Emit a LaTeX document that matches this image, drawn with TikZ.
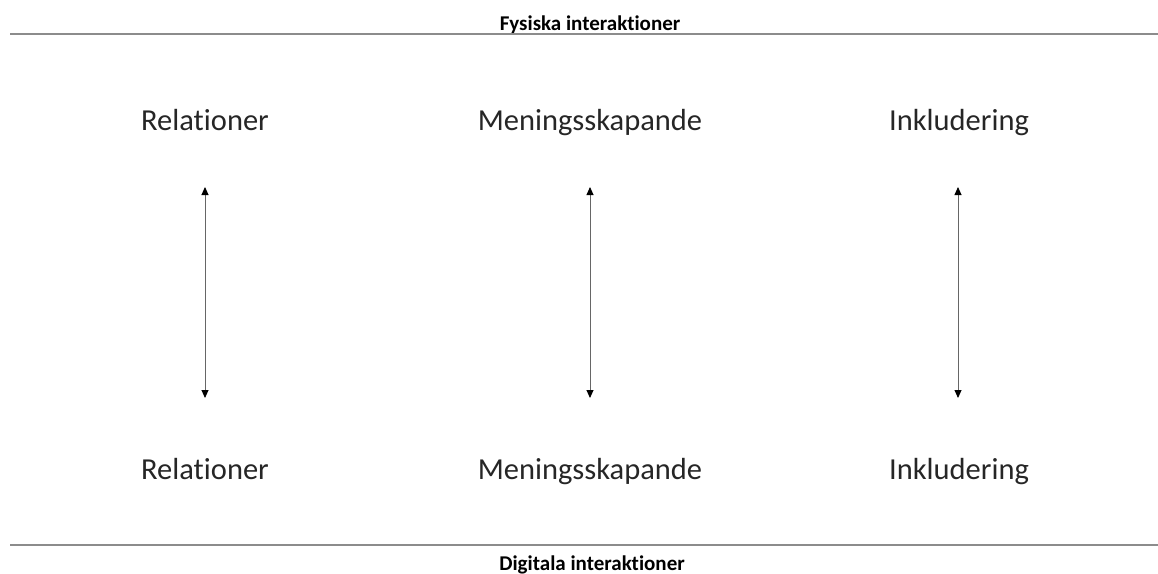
\documentclass[tikz,border=0pt]{standalone}
\usepackage{fontspec}
\setmainfont[Ligatures=NoCommon]{Carlito}
\usetikzlibrary{arrows.meta}
\begin{document}
\begin{tikzpicture}[x=1pt,y=-1pt,
  lbl/.style={font=\fontsize{30.5}{36}\selectfont, text=black!85, inner sep=0pt, anchor=base},
  ttl/.style={font=\bfseries\fontsize{21}{25}\selectfont, inner sep=0pt, anchor=base},
  rule/.style={draw=black!45, line width=1.6pt},
  biarrow/.style={draw=black!60, line width=0.9pt, {Triangle[length=8pt,width=7pt,color=black]}-{Triangle[length=8pt,width=7pt,color=black]}}]
\useasboundingbox (0,0) rectangle (1158,573);
\node[ttl] (t1) at (590,30) {Fysiska interaktioner};
\node[ttl] (t2) at (592,570) {Digitala interaktioner};
\coordinate (l1a) at (10,34); \coordinate (l1b) at (1158,34);
\coordinate (l2a) at (10,545); \coordinate (l2b) at (1158,545);
\draw[rule] (l1a) -- (l1b);
\draw[rule] (l2a) -- (l2b);
\node[lbl] (r1) at (205,130) {Relationer};
\node[lbl] (m1) at (590,130) {Meningsskapande};
\node[lbl] (i1) at (959,130) {Inkludering};
\node[lbl] (r2) at (205,479) {Relationer};
\node[lbl] (m2) at (590,479) {Meningsskapande};
\node[lbl] (i2) at (959,479) {Inkludering};
\coordinate (ra) at (205,187); \coordinate (rb) at (205,398);
\coordinate (ma) at (590,187); \coordinate (mb) at (590,398);
\coordinate (ia) at (958,187); \coordinate (ib) at (958,398);
\draw[biarrow] (ra) -- (rb);
\draw[biarrow] (ma) -- (mb);
\draw[biarrow] (ia) -- (ib);
\end{tikzpicture}
\end{document}
